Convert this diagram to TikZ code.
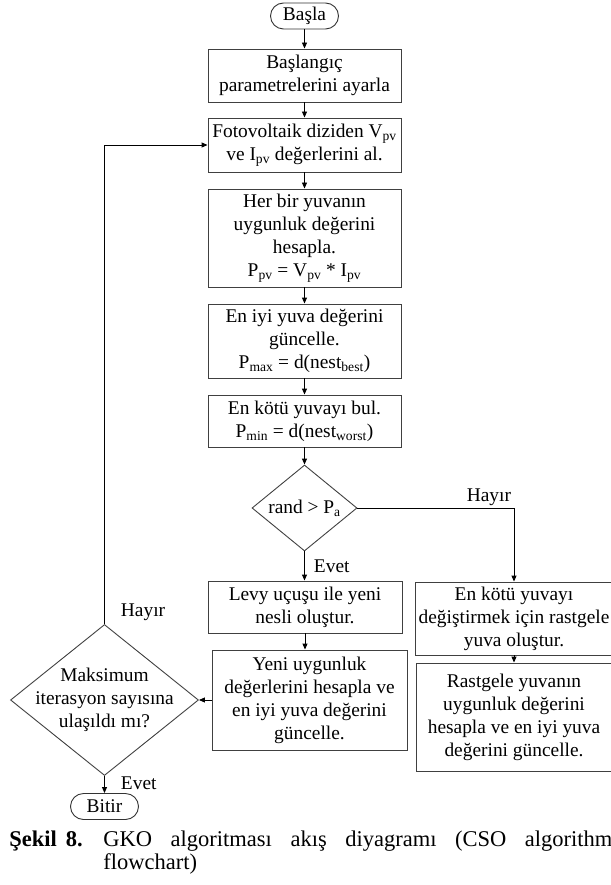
\documentclass[tikz,border=0pt]{standalone}
\usepackage{fontspec}
\setmainfont{Liberation Serif}
\usetikzlibrary{shapes.geometric}
\usetikzlibrary{arrows.meta}

\begin{document}
\begin{tikzpicture}[x=1pt,y=-1pt,
  font=\fontsize{19.4}{23}\selectfont,
  line width=0.9pt,
  box/.style={draw=black!75,align=center,inner sep=0pt,minimum width=193pt},
  term/.style={draw=black!80,rounded corners=13pt,minimum width=68pt,minimum height=26pt,inner sep=0pt},
  cond/.style={draw=black!75,diamond,inner sep=0pt},
  flow/.style={-{Triangle[length=6pt,width=5pt]}},
  lbl/.style={inner sep=2pt}]
\useasboundingbox (0,0) rectangle (610,885);
% main column
\node[term] (start) at (304.5,16) {Başla};
\node[box,minimum height=53pt] (init) at (304.5,75.5) {Başlangıç\\parametrelerini ayarla};
\node[box,minimum height=54pt] (read) at (304.5,145) {Fotovoltaik diziden V\textsubscript{pv}\\ve I\textsubscript{pv} değerlerini al.};
\node[box,minimum height=98pt] (fit) at (304.5,238) {Her bir yuvanın\\uygunluk değerini\\hesapla.\\P\textsubscript{pv} = V\textsubscript{pv} * I\textsubscript{pv}};
\node[box,minimum height=74pt] (best) at (304.5,341) {En iyi yuva değerini\\güncelle.\\P\textsubscript{max} = d(nest\textsubscript{best})};
\node[box,minimum height=52pt] (worst) at (304.5,421) {En kötü yuvayı bul.\\P\textsubscript{min} = d(nest\textsubscript{worst})};
\node[cond,minimum width=105pt,minimum height=86pt] (rand) at (304.5,508) {};
\node at (rand) {rand > P\textsubscript{a}};
\node[box,minimum width=194pt,minimum height=52pt] (levy) at (305,607) {Levy uçuşu ile yeni\\nesli oluştur.};
\node[box,minimum width=195pt,minimum height=100pt] (eval) at (309.5,700) {Yeni uygunluk\\değerlerini hesapla ve\\en iyi yuva değerini\\güncelle.};
% left loop
\node[cond,minimum width=188pt,minimum height=151pt] (maxit) at (104.5,700) {};
\node[align=center] at (maxit) {Maksimum\\iterasyon sayısına\\ulaşıldı mı?};
\node[term] (stop) at (104.5,806.5) {Bitir};
% right branch
\node[box,minimum width=198pt,minimum height=73pt] (repl) at (514,618.5) {En kötü yuvayı\\değiştirmek için rastgele\\yuva oluştur.};
\node[box,minimum width=196pt,minimum height=108pt] (reval) at (514,717) {Rastgele yuvanın\\uygunluk değerini\\hesapla ve en iyi yuva\\değerini güncelle.};

\draw[flow] (start) -- (init);
\draw[flow] (init) -- (read);
\draw[flow] (read) -- (fit);
\draw[flow] (fit) -- (best);
\draw[flow] (best) -- (worst);
\draw[flow] (worst) -- (rand);
\draw[flow] (rand.south) -- node[lbl,right=7pt] {Evet} (rand.south |- levy.north);
\draw[flow] (levy.south) -- (levy.south |- eval.north);
\draw[flow] (eval.west) -- (maxit.east);
\draw[flow] (maxit) -- node[lbl,pos=0.4,right=14pt] {Evet} (stop);
\draw[flow] (maxit.north) -- node[lbl,pos=0.025,right=14pt] {Hayır} (maxit.north |- read.west) -- (read.west);
\draw[flow] (rand.east) -- node[lbl,pos=0.84,above] {Hayır} (rand.east -| repl.north) -- (repl.north);
\draw[flow] (repl) -- (reval);

% caption
\node[anchor=base west,inner sep=0pt,font=\fontsize{22.5}{23}\selectfont\bfseries] (capnum) at (9,846) {Şekil\hspace{0.4em}8.};
\node[anchor=base west,inner sep=0pt,text width=509pt,align=justify,font=\fontsize{22.5}{23}\selectfont] (captxt) at (103,846) {GKO algoritması akış diyagramı (CSO algorithm\linebreak flowchart)};
\end{tikzpicture}
\end{document}
